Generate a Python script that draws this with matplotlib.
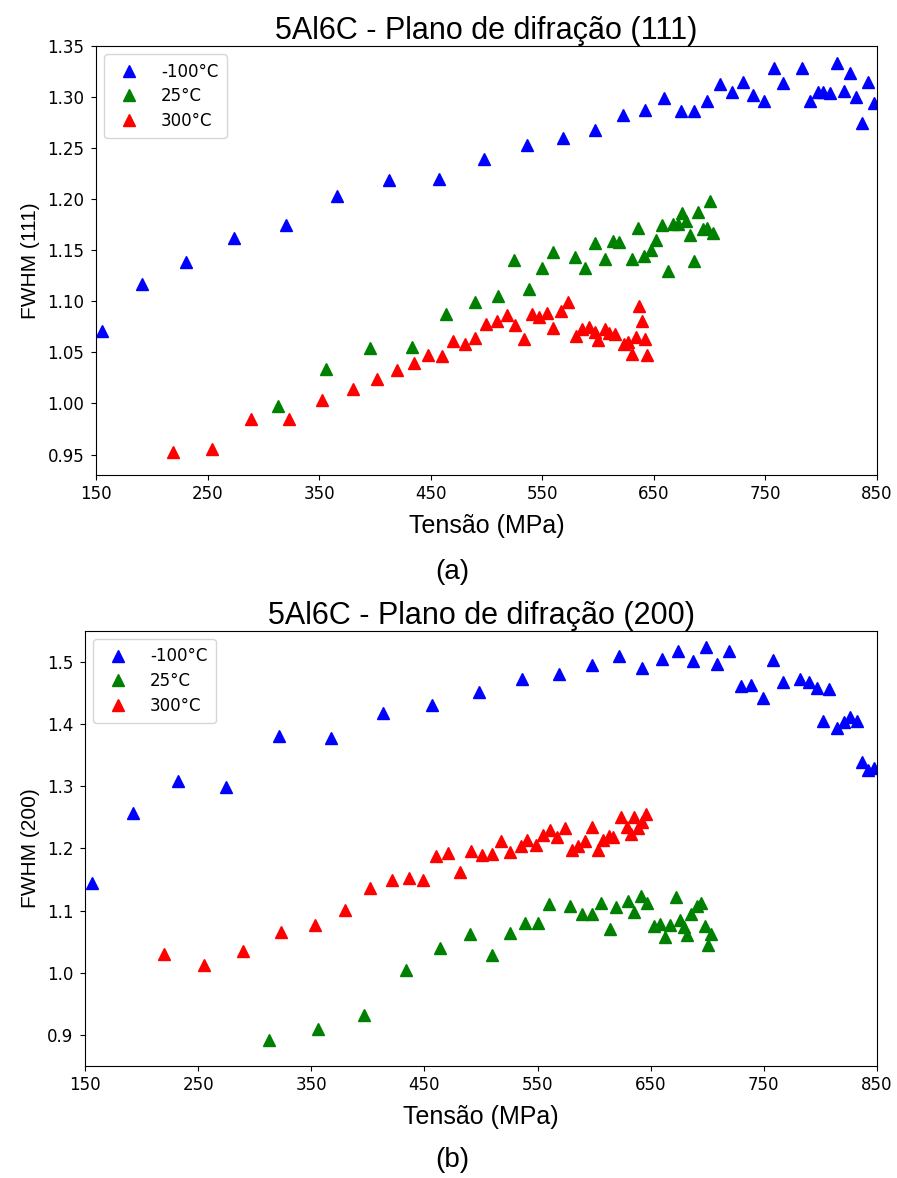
import matplotlib
matplotlib.use("Agg")
import matplotlib.pyplot as plt

# ---- Plane (111) ----
t111_m100 = [155, 191, 231, 274, 320, 366, 413, 457, 498, 536, 569, 597, 622, 642, 659,
             674, 686, 698, 709, 720, 730, 739, 749, 758, 766, 783, 790, 797, 802, 808,
             814, 820, 826, 831, 837, 842, 847]
f111_m100 = [1.071, 1.117, 1.138, 1.162, 1.175, 1.203, 1.219, 1.220, 1.239, 1.253, 1.260,
             1.268, 1.282, 1.287, 1.299, 1.286, 1.286, 1.296, 1.313, 1.305, 1.315, 1.302,
             1.296, 1.328, 1.314, 1.328, 1.296, 1.305, 1.305, 1.304, 1.333, 1.306, 1.324,
             1.300, 1.275, 1.315, 1.294]

t111_25 = [313, 356, 396, 433, 464, 490, 510, 525, 538, 550, 560, 579, 588, 597, 606,
           613, 619, 630, 636, 641, 647, 652, 657, 663, 667, 672, 675, 679, 682, 686,
           690, 694, 698, 700, 703]
f111_25 = [0.998, 1.034, 1.054, 1.055, 1.088, 1.099, 1.105, 1.140, 1.112, 1.133, 1.148,
           1.143, 1.133, 1.157, 1.141, 1.159, 1.158, 1.141, 1.172, 1.144, 1.150, 1.160,
           1.175, 1.130, 1.176, 1.176, 1.186, 1.179, 1.165, 1.139, 1.187, 1.171, 1.172,
           1.198, 1.167]

t111_300 = [219, 254, 289, 323, 353, 380, 402, 420, 435, 448, 460, 470, 481, 490, 500,
            509, 518, 526, 534, 541, 547, 554, 560, 567, 573, 580, 586, 592, 597, 600,
            606, 610, 615, 623, 627, 630, 634, 637, 639, 642, 644]
f111_300 = [0.952, 0.955, 0.985, 0.985, 1.003, 1.014, 1.024, 1.033, 1.040, 1.047, 1.046,
            1.061, 1.058, 1.064, 1.078, 1.081, 1.087, 1.077, 1.063, 1.088, 1.085, 1.089,
            1.074, 1.091, 1.099, 1.066, 1.073, 1.075, 1.070, 1.062, 1.073, 1.069, 1.068,
            1.058, 1.060, 1.048, 1.065, 1.095, 1.081, 1.063, 1.047]

# ---- Plane (200) ----
t200_m100 = [156, 192, 232, 275, 321, 367, 413, 457, 498, 536, 569, 598, 622, 642, 660,
             674, 687, 699, 709, 719, 730, 739, 749, 758, 767, 782, 790, 797, 802, 808,
             815, 821, 826, 832, 837, 842, 847]
f200_m100 = [1.145, 1.257, 1.309, 1.299, 1.380, 1.377, 1.417, 1.430, 1.452, 1.473, 1.481,
             1.495, 1.509, 1.490, 1.504, 1.518, 1.501, 1.523, 1.496, 1.517, 1.461, 1.462,
             1.442, 1.503, 1.468, 1.473, 1.468, 1.458, 1.404, 1.457, 1.394, 1.403, 1.412,
             1.405, 1.339, 1.326, 1.329]

t200_25 = [313, 356, 397, 434, 464, 490, 510, 526, 539, 550, 560, 579, 589, 598, 606,
           614, 619, 630, 635, 641, 647, 653, 658, 663, 667, 672, 676, 679, 682, 686,
           691, 694, 698, 701, 703]
f200_25 = [0.892, 0.910, 0.932, 1.004, 1.040, 1.063, 1.028, 1.064, 1.080, 1.080, 1.111,
           1.107, 1.094, 1.094, 1.112, 1.071, 1.105, 1.115, 1.098, 1.123, 1.112, 1.075,
           1.079, 1.057, 1.077, 1.122, 1.084, 1.074, 1.060, 1.094, 1.107, 1.112, 1.075,
           1.044, 1.063]

t200_300 = [220, 255, 290, 323, 353, 380, 402, 421, 436, 449, 460, 471, 481, 491, 501,
            510, 518, 526, 535, 541, 549, 555, 561, 567, 574, 580, 586, 592, 598, 603,
            608, 613, 617, 624, 629, 633, 635, 639, 642, 646]
f200_300 = [1.030, 1.013, 1.035, 1.066, 1.077, 1.101, 1.136, 1.149, 1.153, 1.149, 1.188,
            1.193, 1.162, 1.196, 1.189, 1.191, 1.211, 1.194, 1.204, 1.213, 1.205, 1.221,
            1.230, 1.218, 1.232, 1.197, 1.204, 1.211, 1.235, 1.198, 1.213, 1.220, 1.218,
            1.251, 1.235, 1.223, 1.251, 1.233, 1.243, 1.255]

labels = ["-100°C", "25°C", "300°C"]
colors = ["blue", "green", "red"]
xticks = [150, 250, 350, 450, 550, 650, 750, 850]
yticks_111 = [0.95, 1.00, 1.05, 1.10, 1.15, 1.20, 1.25, 1.30, 1.35]
yticks_200 = [0.9, 1.0, 1.1, 1.2, 1.3, 1.4, 1.5]

SANS = "Liberation Sans"
TICK = "DejaVu Sans"

fig = plt.figure(figsize=(8.97, 11.78), dpi=100)
ax1 = fig.add_axes([0.107, 0.5968, 0.8707, 0.3642])
ax2 = fig.add_axes([0.0948, 0.0951, 0.8829, 0.3695])


def draw(ax, series, title, ylabel, yticks, ylim, fmt):
    for (x, y), lab, c in zip(series, labels, colors):
        ax.plot(x, y, linestyle="none", marker="^", ms=9, color=c, label=lab)
    ax.set_xlim(150, 850)
    ax.set_ylim(*ylim)
    ax.set_xticks(xticks)
    ax.set_yticks(yticks)
    ax.set_yticklabels([fmt.format(v) for v in yticks])
    ax.tick_params(axis="y", pad=5)
    for lab in ax.get_xticklabels() + ax.get_yticklabels():
        lab.set_fontfamily(TICK)
        lab.set_fontsize(12)
    ax.set_title(title, fontsize=22, family=SANS, pad=5)
    ax.set_xlabel("Tensão (MPa)", fontsize=18, family=SANS, labelpad=8)
    ax.set_ylabel(ylabel, fontsize=15, family=SANS, labelpad=5)
    ax.legend(loc="upper left", prop={"family": TICK, "size": 12},
              borderpad=0.5, handletextpad=0.9, labelspacing=0.4)


draw(ax1, [(t111_m100, f111_m100), (t111_25, f111_25), (t111_300, f111_300)],
     "5Al6C - Plano de difração (111)", "FWHM (111)", yticks_111, (0.93, 1.35), "{:.2f}")
draw(ax2, [(t200_m100, f200_m100), (t200_25, f200_25), (t200_300, f200_300)],
     "5Al6C - Plano de difração (200)", "FWHM (200)", yticks_200, (0.85, 1.55), "{:.1f}")

fig.text(0.504, 1 - 572 / 1178, "(a)", ha="center", va="center", fontsize=20, family=SANS)
fig.text(0.504, 1 - 1160 / 1178, "(b)", ha="center", va="center", fontsize=20, family=SANS)

fig.savefig("out.png", dpi=100)
